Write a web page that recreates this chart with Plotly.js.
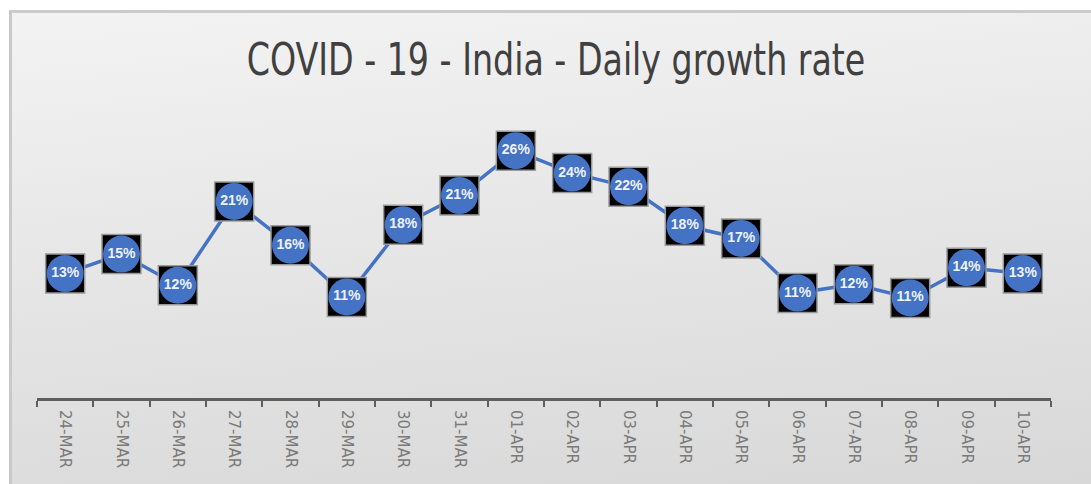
<!DOCTYPE html>
<html>
<head>
<meta charset="utf-8">
<script src="https://cdn.plot.ly/plotly-3.0.1.min.js"></script>
<style>
  html, body { margin: 0; padding: 0; background: #ffffff; }
  #wrap { position: relative; width: 1091px; height: 484px; overflow: hidden; background: #ffffff; }
  #bg { position: absolute; left: 9px; top: 10px; width: 1082px; height: 474px;
        border-left: 3px solid #c9c9c9; border-top: 3px solid #cbcbcb; box-sizing: border-box;
        background: linear-gradient(175deg, #f3f3f3 0%, #e8e8e8 40%, #d8d8d8 100%); }
  #chart { position: absolute; left: 0; top: 0; width: 1091px; height: 484px; }
</style>
</head>
<body>
<div id="wrap">
  <div id="bg"></div>
  <div id="chart"></div>
</div>
<script>
const dates = ["24-MAR","25-MAR","26-MAR","27-MAR","28-MAR","29-MAR","30-MAR","31-MAR","01-APR",
               "02-APR","03-APR","04-APR","05-APR","06-APR","07-APR","08-APR","09-APR","10-APR"];
const growthRate = [0.134, 0.154, 0.122, 0.208, 0.163, 0.110, 0.184, 0.214, 0.260,
                    0.237, 0.223, 0.183, 0.170, 0.114, 0.123, 0.109, 0.140, 0.134];
const chartTitle = "COVID - 19 - India - Daily growth rate";

const blue = "#4472C4";

const lineTrace = {
  x: dates, y: growthRate, type: "scatter", mode: "lines",
  line: { color: blue, width: 3.5 }, hoverinfo: "skip", cliponaxis: false
};
const squareTrace = {
  x: dates, y: growthRate, type: "scatter", mode: "markers",
  marker: { symbol: "square", size: 39, color: "#000000", line: { color: "#9a9a9a", width: 1.5 } },
  hoverinfo: "skip", cliponaxis: false
};
const circleTrace = {
  x: dates, y: growthRate, type: "scatter", mode: "markers+text",
  marker: { symbol: "circle", size: 37, color: blue, line: { width: 0 } },
  texttemplate: "%{y:.0%}", textposition: "middle center",
  textfont: { family: "Liberation Sans, Arial, sans-serif", size: 14, color: "#eef2fb", weight: "bold" },
  hoverinfo: "skip", cliponaxis: false
};

const layout = {
  width: 1091, height: 484,
  paper_bgcolor: "rgba(0,0,0,0)", plot_bgcolor: "rgba(0,0,0,0)",
  margin: { l: 37, r: 40, t: 130, b: 86 },
  showlegend: false,
  title: {
    text: chartTitle, x: 0.51, xanchor: "center", y: 1 - 60/484, yanchor: "middle", yref: "container",
    font: { family: "DejaVu Sans Condensed, DejaVu Sans, sans-serif", size: 44, color: "#404040" }
  },
  xaxis: {
    type: "category", range: [-0.5, 17.5], fixedrange: true,
    showline: true, linecolor: "#5e5e5e", linewidth: 3,
    ticks: "outside", tickson: "boundaries", ticklen: 6, tickwidth: 2, tickcolor: "#5e5e5e",
    tickangle: 90, showgrid: false, zeroline: false, ticklabelstandoff: 6,
    tickfont: { family: "DejaVu Sans, sans-serif", size: 15, color: "#7a7a7a" }
  },
  yaxis: { visible: false, range: [0.0064, 0.2812], fixedrange: true, showgrid: false, zeroline: false }
};

Plotly.newPlot("chart", [lineTrace, squareTrace, circleTrace], layout, { displayModeBar: false, staticPlot: true })
  .then(function (gd) {
    // narrow the title horizontally to match the condensed look of the reference
    const t = gd.querySelector(".gtitle");
    if (t) {
      const bb = t.getBBox();
      const cx = bb.x + bb.width / 2;
      const s = 619 / bb.width;
      t.setAttribute("transform", "translate(556,0) scale(" + s + ",1) translate(" + (-cx) + ",0)");
    }
  });
</script>
</body>
</html>
